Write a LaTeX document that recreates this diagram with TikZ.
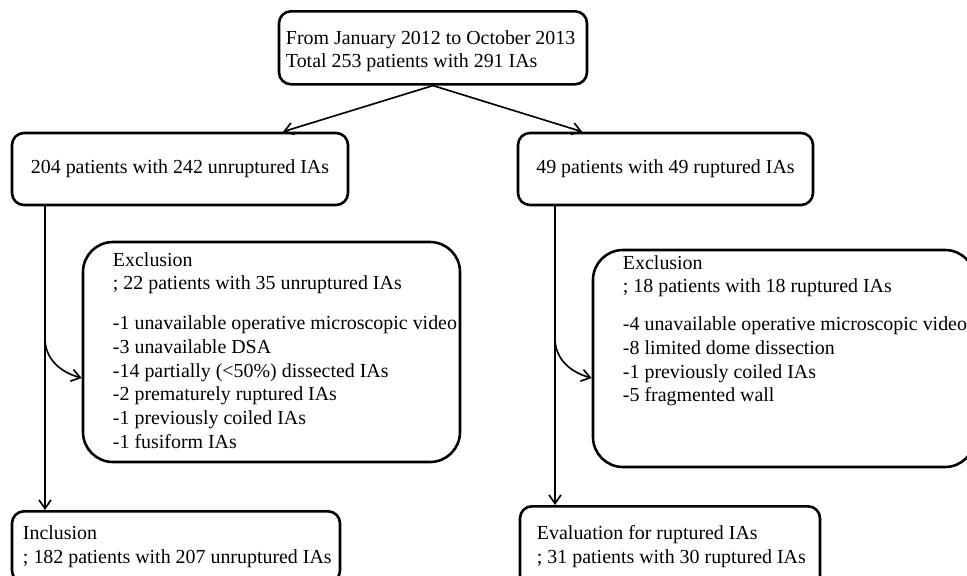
\documentclass[tikz,border=0pt]{standalone}
\usepackage{fontspec}
\setmainfont{Liberation Serif}
\usetikzlibrary{arrows.meta}
% box width, left pad, rows
\newcommand{\boxrows}[3]{\makebox[#1][l]{\hspace*{#2}\begin{tabular}[t]{@{}l@{}}#3\end{tabular}}}
% box width, left pad, height, rows (top aligned)
\newcommand{\toprows}[4]{\makebox[#1][l]{\hspace*{#2}\parbox[c][#3][t]{\dimexpr#1-#2\relax}{\begin{tabular}[t]{@{}l@{}}#4\end{tabular}}}}

\begin{document}
\begin{tikzpicture}[x=0.03cm, y=-0.03cm,
  every node/.style={font=\fontsize{17}{20.2}\selectfont},
  flowbox/.style={draw, line width=2.2pt, rounded corners=0.36cm, inner sep=0},
  exbox/.style={draw, line width=2.2pt, rounded corners=0.9cm, inner sep=0},
  flow/.style={line width=1.4pt, -{Straight Barb[length=2.6mm, width=3.6mm]}}]
  \useasboundingbox (0,0) rectangle (967,575);
  % start box
  \node[flowbox, anchor=north, text height=0.99cm, text depth=1.2cm] (total) at (433,10)
    {\boxrows{9.24cm}{0.21cm}{From January 2012 to October 2013\\ Total 253 patients with 291 IAs}};
  % unruptured / ruptured
  \node[flowbox, minimum width=10.08cm, minimum height=2.16cm] (unrup) at (180,169)
    {204 patients with 242 unruptured IAs};
  \node[flowbox, minimum width=8.85cm, minimum height=2.16cm] (rup) at (665.5,169)
    {49 patients with 49 ruptured IAs};
  % exclusions
  \node[exbox, minimum width=11.31cm, minimum height=6.6cm] (exunrup) at (271.5,352)
    {\toprows{11.31cm}{0.9cm}{6.15cm}{Exclusion\\
      ; 22 patients with 35 unruptured IAs\\[0.49cm]
      -1 unavailable\ operative microscopic video\\
      -3 unavailable\ DSA\\
      -14 partially (<50\%) dissected IAs\\
      -2 prematurely ruptured IAs\\
      -1 previously coiled IAs\\
      -1 fusiform IAs}};
  \node[exbox, minimum width=11.46cm, minimum height=6.51cm] (exrup) at (784,358.5)
    {\toprows{11.46cm}{0.9cm}{6.36cm}{Exclusion\\
      ; 18 patients with 18 ruptured IAs\\[0.43cm]
      -4 unavailable operative microscopic video\\
      -8 limited\ dome dissection\\
      -1 previously coiled IAs\\
      -5 fragmented wall}};
  % final boxes
  \node[flowbox, anchor=north, inner ysep=0.36cm] (incl) at (176,510)
    {\boxrows{9.84cm}{0.33cm}{Inclusion\\ ; 182 patients with 207 unruptured IAs}};
  \node[flowbox, anchor=north, inner ysep=0.51cm] (eval) at (670,505)
    {\boxrows{9cm}{0.51cm}{Evaluation\ for ruptured IAs\\ ; 31 patients with 30 ruptured IAs}};
  % split arrows
  \foreach \n/\s in {unrup/3.09cm, rup/-2.5cm} \draw[flow] (total.south) -- ([xshift=\s]\n.north);
  % columns with exclusion branch
  \foreach \src/\dx/\exc/\dy/\dst in {unrup/-4.05cm/exunrup/-0.78cm/incl, rup/-3.315cm/exrup/-0.585cm/eval} {
    \coordinate (col) at ([xshift=\dx]\src.south);
    \draw[flow] (col) -- (col |- \dst.north);
    \draw[flow] ([yshift=-3.96cm]col) to[out=-90, in=165] ([yshift=\dy]\exc.west);
  }
\end{tikzpicture}
\end{document}
